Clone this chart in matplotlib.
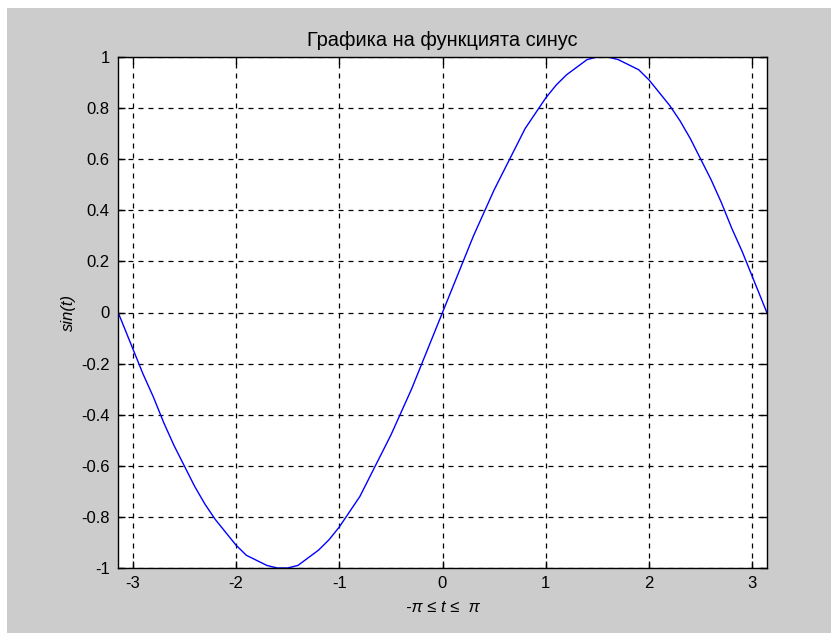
import matplotlib.pyplot as plt
from matplotlib.patches import Rectangle

# values
t = [-3.14, -3.0, -2.9, -2.8, -2.7, -2.6, -2.5, -2.4, -2.3, -2.2, -2.1, -2.0,
     -1.9, -1.8, -1.7, -1.6, -1.5, -1.4, -1.3, -1.2, -1.1, -1.0, -0.9, -0.8,
     -0.7, -0.6, -0.5, -0.4, -0.3, -0.2, -0.1, 0.0, 0.1, 0.2, 0.3, 0.4, 0.5,
     0.6, 0.7, 0.8, 0.9, 1.0, 1.1, 1.2, 1.3, 1.4, 1.5, 1.6, 1.7, 1.8, 1.9,
     2.0, 2.1, 2.2, 2.3, 2.4, 2.5, 2.6, 2.7, 2.8, 2.9, 3.0, 3.14]
y = [0.0, -0.14, -0.24, -0.33, -0.43, -0.52, -0.60, -0.68, -0.75, -0.81, -0.86,
     -0.91, -0.95, -0.97, -0.99, -1.0, -1.0, -0.99, -0.96, -0.93, -0.89, -0.84,
     -0.78, -0.72, -0.64, -0.56, -0.48, -0.39, -0.30, -0.20, -0.10, 0.0, 0.10,
     0.20, 0.30, 0.39, 0.48, 0.56, 0.64, 0.72, 0.78, 0.84, 0.89, 0.93, 0.96,
     0.99, 1.0, 1.0, 0.99, 0.97, 0.95, 0.91, 0.86, 0.81, 0.75, 0.68, 0.60,
     0.52, 0.43, 0.33, 0.24, 0.14, 0.0]

xticks = [-3, -2, -1, 0, 1, 2, 3]
yticks = [-1, -0.8, -0.6, -0.4, -0.2, 0, 0.2, 0.4, 0.6, 0.8, 1]
ytick_labels = ["-1", "-0.8", "-0.6", "-0.4", "-0.2", "0", "0.2", "0.4", "0.6", "0.8", "1"]

plt.rcParams['font.family'] = ['Liberation Sans Narrow', 'Liberation Sans', 'DejaVu Sans']
plt.rcParams['font.size'] = 12

fig = plt.figure(figsize=(8.31, 6.33), dpi=100, facecolor='white')
fig.patches.append(Rectangle((7 / 831, 0), 1, 1 - 8 / 633, transform=fig.transFigure,
                             facecolor='#cccccc', edgecolor='none', zorder=-1))

ax = fig.add_axes([118 / 831, 1 - 568 / 633, (767 - 118) / 831, (568 - 57) / 633])
ax.plot(t, y, color='#0000ff', lw=1)

ax.set_xlim(-3.14159, 3.14159)
ax.set_ylim(-1, 1)
ax.set_xticks(xticks)
ax.set_xticklabels([str(v) for v in xticks])
ax.set_yticks(yticks)
ax.set_yticklabels(ytick_labels)
ax.tick_params(direction='in', top=True, right=True, length=5, width=1, pad=6)
ax.grid(True, color='black', linestyle=(0, (4, 4)), linewidth=0.9)
for s in ax.spines.values():
    s.set_linewidth(1)

ax.set_title("Графика на функцията синус", pad=8)
ax.set_ylabel("sin(t)", style='italic', labelpad=4)
ax.set_xlabel("-π ≤ t ≤  π", style='italic', labelpad=6)

fig.savefig("out.png", dpi=100, facecolor=fig.get_facecolor())
